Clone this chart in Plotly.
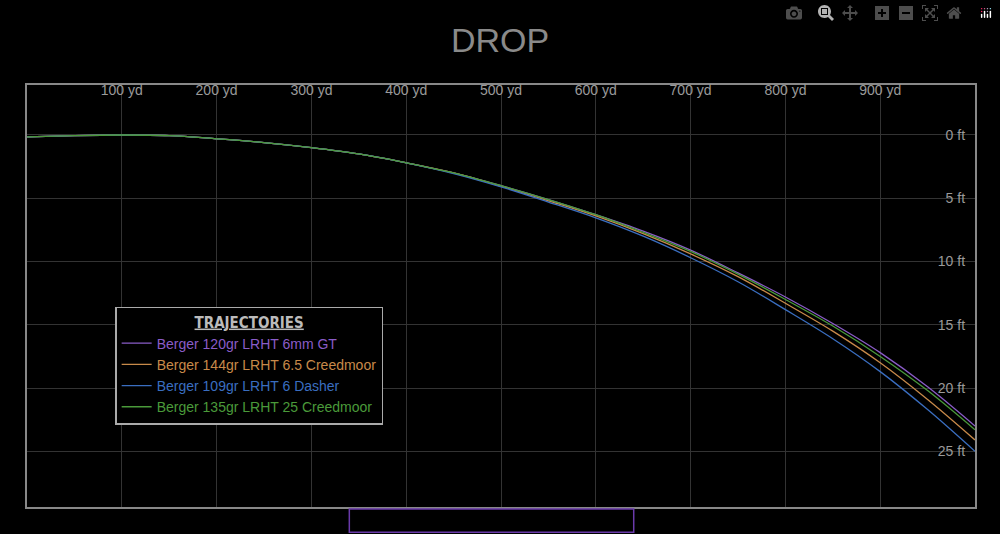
import plotly.graph_objects as go

yards = [0, 50, 100, 150, 200, 250, 300, 350, 400, 450, 500, 550, 600, 650, 700, 750, 800, 850, 900, 950, 1000]
names = ["Berger 120gr LRHT 6mm GT", "Berger 144gr LRHT 6.5 Creedmoor",
         "Berger 109gr LRHT 6 Dasher", "Berger 135gr LRHT 25 Creedmoor"]
colors = ["#8a5cc8", "#c88a4a", "#3a6ec0", "#4a9a3a"]
drop_gt = [0.15, 0.05, 0.0, 0.05, 0.3, 0.6, 1.0, 1.5, 2.2, 3.0, 4.0, 5.1, 6.3, 7.6, 9.1, 10.9, 12.8, 14.9, 17.2, 19.9, 23.0]
drop_65 = [0.15, 0.05, 0.0, 0.05, 0.3, 0.6, 1.0, 1.5, 2.2, 3.0, 4.05, 5.2, 6.4, 7.8, 9.4, 11.2, 13.3, 15.5, 18.0, 20.9, 24.1]
drop_dasher = [0.15, 0.05, 0.0, 0.05, 0.3, 0.6, 1.0, 1.5, 2.2, 3.05, 4.1, 5.3, 6.55, 8.0, 9.7, 11.6, 13.8, 16.1, 18.7, 21.7, 25.0]
drop_25 = [0.15, 0.05, 0.0, 0.05, 0.3, 0.6, 1.0, 1.5, 2.2, 3.0, 4.0, 5.1, 6.3, 7.7, 9.2, 11.0, 13.0, 15.1, 17.5, 20.2, 23.3]
series = [drop_gt, drop_65, drop_dasher, drop_25]
x_ticks = [100, 200, 300, 400, 500, 600, 700, 800, 900]
y_ticks = [0, 5, 10, 15, 20, 25]

fig = go.Figure()
for n, c, d in zip(names, colors, series):
    fig.add_trace(go.Scatter(x=yards, y=d, name=f"<span style='color:{c}'>{n}</span>",
                             mode="lines", line=dict(color=c, width=1.3, shape="spline")))

fig.update_layout(
    width=1000, height=534, paper_bgcolor="black", plot_bgcolor="black",
    margin=dict(l=27, r=25, t=85, b=27),
    title=dict(text="DROP", x=0.5, y=0.925, xanchor="center", yanchor="middle",
               font=dict(family="Liberation Sans", size=34, color="#8a8a8a")),
    font=dict(family="Liberation Sans", color="#9a9a9a", size=14),
    xaxis=dict(range=[0, 1000], tickvals=x_ticks, ticktext=[f"{v} yd" for v in x_ticks],
               side="top", ticklabelposition="inside", showgrid=True, gridcolor="#333", ticks="",
               zeroline=False, showline=True, linecolor="#888", linewidth=1.5, mirror=True,
               tickfont=dict(color="#9a9a9a", size=14)),
    yaxis=dict(range=[29.4, -3.95], tickvals=y_ticks, ticktext=[f"{v} ft" for v in y_ticks],
               side="right", ticklabelposition="inside", showgrid=True, gridcolor="#333", ticks="",
               ticklabelstandoff=10,
               zeroline=False, showline=True, linecolor="#888", linewidth=1.5, mirror=True,
               tickfont=dict(color="#9a9a9a", size=14)),
    legend=dict(x=0.093, y=0.475, xanchor="left", yanchor="top", bgcolor="black",
                bordercolor="#aaa", borderwidth=1.5,
                title=dict(text="<b><u>TRAJECTORIES</u></b>", side="top center",
                           font=dict(family="DejaVu Sans Condensed", size=15, color="#bbb")),
                font=dict(size=14), itemwidth=30),
    showlegend=True,
)
fig.add_shape(type="rect", xref="paper", yref="paper", x0=0.34, x1=0.64, y0=-0.06, y1=-0.005,
              line=dict(color="#6a3aaa", width=1.5))
fig.write_html("out.html",
               post_script="document.body.style.margin='0';document.body.style.background='black';")
